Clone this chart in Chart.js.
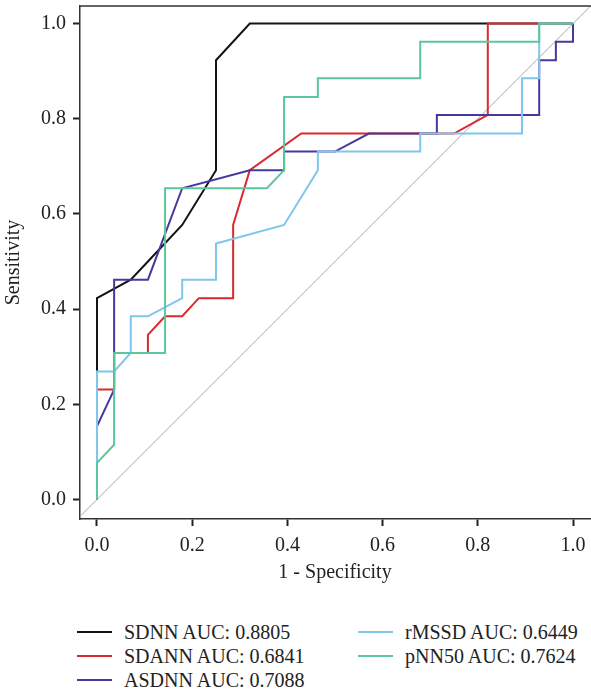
<!DOCTYPE html>
<html>
<head>
<meta charset="utf-8">
<script src="https://cdn.jsdelivr.net/npm/chart.js@4.4.1/dist/chart.umd.min.js"></script>
<style>
  body { margin: 0; background: #fff; }
  #wrap { position: relative; width: 591px; height: 690px; }
  #box { position: absolute; left: 0; top: 0; width: 591px; height: 600px; }
  .leg { position: absolute; font-family: "Liberation Serif", serif; font-size: 20px; color: #222; white-space: nowrap; line-height: 22px; }
  .leg span.sw { display: inline-block; width: 35px; height: 0; border-top: 2px solid; vertical-align: middle; margin-right: 12px; position: relative; top: -2px; }
</style>
</head>
<body>
<div id="wrap">
  <div id="box"><canvas id="roc"></canvas></div>
  <div id="legend"></div>
</div>
<script>
// ROC curves: false positive rate (1 - specificity) vs sensitivity
var sdnnFpr  = [0, 0, 0, 0.071, 0.107, 0.179, 0.25, 0.25, 0.321, 1];
var sdnnTpr  = [0, 0.269, 0.423, 0.462, 0.5, 0.577, 0.692, 0.923, 1, 1];

var sdannFpr = [0, 0, 0.036, 0.036, 0.107, 0.107, 0.143, 0.179, 0.214, 0.286, 0.286, 0.321, 0.429, 0.75, 0.821, 0.821, 1];
var sdannTpr = [0, 0.231, 0.231, 0.308, 0.308, 0.346, 0.385, 0.385, 0.423, 0.423, 0.577, 0.692, 0.769, 0.769, 0.808, 1, 1];

var asdnnFpr = [0, 0, 0.036, 0.036, 0.107, 0.179, 0.321, 0.393, 0.393, 0.5, 0.571, 0.714, 0.714, 0.929, 0.929, 0.964, 0.964, 1, 1];
var asdnnTpr = [0, 0.154, 0.231, 0.462, 0.462, 0.654, 0.692, 0.692, 0.731, 0.731, 0.769, 0.769, 0.808, 0.808, 0.923, 0.923, 0.962, 0.962, 1];

var rmssdFpr = [0, 0, 0, 0.036, 0.071, 0.071, 0.107, 0.179, 0.179, 0.25, 0.25, 0.393, 0.464, 0.464, 0.679, 0.679, 0.893, 0.893, 0.929, 0.929, 1];
var rmssdTpr = [0, 0.077, 0.269, 0.269, 0.308, 0.385, 0.385, 0.423, 0.462, 0.462, 0.538, 0.577, 0.692, 0.731, 0.731, 0.769, 0.769, 0.885, 0.885, 1, 1];

var pnn50Fpr = [0, 0, 0.036, 0.036, 0.143, 0.143, 0.357, 0.393, 0.393, 0.464, 0.464, 0.679, 0.679, 0.929, 0.929, 1];
var pnn50Tpr = [0, 0.077, 0.115, 0.308, 0.308, 0.654, 0.654, 0.692, 0.846, 0.846, 0.885, 0.885, 0.962, 0.962, 1, 1];

var seriesNames = ['SDNN', 'SDANN', 'ASDNN', 'rMSSD', 'pNN50'];
var seriesAuc = ['0.8805', '0.6841', '0.7088', '0.6449', '0.7624'];
var seriesColors = ['#141414', '#d92a2f', '#45399c', '#7fc6ec', '#5cc79a'];
var tickVals = [0, 0.2, 0.4, 0.6, 0.8, 1.0];

function toPoints(xs, ys){
	let pts = [];
	for(let i = 0; i < xs.length; i++){
		pts.push({x: xs[i], y: ys[i]});
	}
	return pts;
}

var curves = [
	toPoints(sdnnFpr, sdnnTpr),
	toPoints(sdannFpr, sdannTpr),
	toPoints(asdnnFpr, asdnnTpr),
	toPoints(rmssdFpr, rmssdTpr),
	toPoints(pnn50Fpr, pnn50Tpr)
];

var datasets = [];
for(let i = 0; i < curves.length; i++){
	datasets.push({
		label: seriesNames[i] + ' AUC: ' + seriesAuc[i],
		data: curves[i],
		showLine: true,
		borderColor: seriesColors[i],
		borderWidth: 2,
		pointRadius: 0,
		// later series sit on top
		order: curves.length - i
	});
}
// chance line
datasets.push({
	label: 'ref',
	data: [{x: -0.1, y: -0.1}, {x: 1.1, y: 1.1}],
	showLine: true,
	borderColor: '#a9a9a9',
	borderWidth: 1,
	pointRadius: 0,
	order: 10
});

// top edge of the plot frame
const topFrame = {
	id: 'topFrame',
	afterDraw(chart){
		const ctx = chart.ctx;
		const a = chart.chartArea;
		ctx.save();
		ctx.strokeStyle = '#333';
		ctx.lineWidth = 1.5;
		ctx.beginPath();
		ctx.moveTo(a.left, a.top);
		ctx.lineTo(a.right + 2, a.top);
		ctx.stroke();
		ctx.restore();
	}
};

var font = {family: '"Liberation Serif", serif', size: 20};

var config = {
	type: 'scatter',
	data: {datasets: datasets},
	plugins: [topFrame],
	options: {
		responsive: true,
		maintainAspectRatio: false,
		animation: false,
		layout: {padding: {left: 0, right: 1, top: 6, bottom: 0}},
		plugins: {
			legend: {display: false},
			tooltip: {enabled: false}
		},
		scales: {
			x: {
				type: 'linear',
				min: -0.0357,
				max: 1.0357,
				afterBuildTicks: function(s){ s.ticks = tickVals.map(v => ({value: v})); },
				afterFit: function(s){ s.height = 81; s.paddingLeft = 0; s.paddingRight = 0; },
				ticks: {
					color: '#222',
					font: font,
					padding: 8,
					maxRotation: 0,
					callback: v => v.toFixed(1)
				},
				grid: {drawOnChartArea: false, tickLength: 7, tickColor: '#222', tickWidth: 2},
				border: {display: true, color: '#333', width: 1.5},
				title: {display: true, text: '1 - Specificity', color: '#222', font: font, padding: {top: 15, bottom: 15}}
			},
			y: {
				type: 'linear',
				min: -0.041,
				max: 1.037,
				afterBuildTicks: function(s){ s.ticks = tickVals.map(v => ({value: v})); },
				afterFit: function(s){ s.width = 80; s.paddingTop = 0; s.paddingBottom = 0; },
				ticks: {
					color: '#222',
					font: font,
					padding: 7,
					callback: v => v.toFixed(1)
				},
				grid: {drawOnChartArea: false, tickLength: 7, tickColor: '#222', tickWidth: 2},
				border: {display: true, color: '#333', width: 1.5},
				title: {display: true, text: 'Sensitivity', color: '#222', font: font, padding: {top: 2, bottom: 2}}
			}
		}
	}
};

new Chart(document.getElementById('roc'), config);

// two-column legend under the plot
var legendSlots = [
	{left: 77, top: 621},
	{left: 77, top: 645},
	{left: 77, top: 669},
	{left: 358, top: 621},
	{left: 358, top: 645}
];
var legendBox = document.getElementById('legend');
for(let i = 0; i < seriesNames.length; i++){
	let d = document.createElement('div');
	d.className = 'leg';
	d.style.left = legendSlots[i].left + 'px';
	d.style.top = legendSlots[i].top + 'px';
	d.innerHTML = '<span class="sw" style="border-color:' + seriesColors[i] + '"></span>' + seriesNames[i] + ' AUC: ' + seriesAuc[i];
	legendBox.appendChild(d);
}
</script>
</body>
</html>
